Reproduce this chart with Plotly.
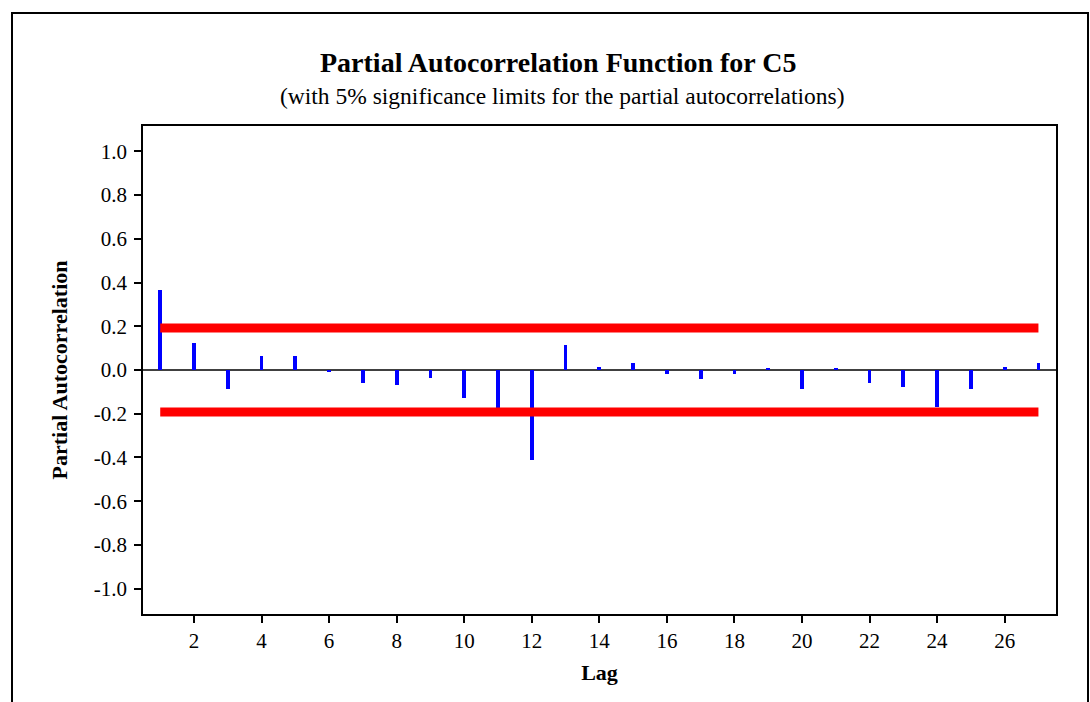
import plotly.graph_objects as go

lags = list(range(1, 28))
pacf = [0.365, 0.124, -0.085, 0.066, 0.066, -0.009, -0.059, -0.068, -0.035,
        -0.127, -0.172, -0.410, 0.116, 0.015, 0.032, -0.018, -0.043, -0.018,
        0.008, -0.085, 0.008, -0.059, -0.076, -0.169, -0.085, 0.015, 0.032]
sig_limit = 0.192
x_ticks = list(range(2, 27, 2))
y_ticks = [round(-1.0 + 0.2 * i, 1) for i in range(11)]
y_ticktext = [f"{v:.1f}" for v in y_ticks]

FONT = "Liberation Serif, Times New Roman, serif"

fig = go.Figure()
fig.add_trace(go.Bar(x=lags, y=pacf, width=0.11, marker=dict(color="#0000ff", line=dict(width=0)),
                     showlegend=False))
fig.add_trace(go.Scatter(x=[lags[0], lags[-1]], y=[sig_limit, sig_limit], mode="lines",
                         line=dict(color="#ff0000", width=9), showlegend=False))
fig.add_trace(go.Scatter(x=[lags[0], lags[-1]], y=[-sig_limit, -sig_limit], mode="lines",
                         line=dict(color="#ff0000", width=9), showlegend=False))

L, R, T, B = 143, 34, 126, 88
W, H = 1090, 702
pw, ph = W - L - R, H - T - B

def px_x(x):
    return (x - L) / pw

def px_y(y):
    return (H - B - y) / ph

fig.update_layout(
    width=W, height=H,
    margin=dict(l=L, r=R, t=T, b=B),
    paper_bgcolor="white", plot_bgcolor="white",
    font=dict(family=FONT, size=20, color="black"),
    bargap=0,
    xaxis=dict(range=[0.49, 27.52], tickvals=x_ticks, ticks="outside", ticklen=7, tickwidth=1.5,
               tickcolor="black", showline=True, linecolor="black", linewidth=1.5, mirror=True,
               showgrid=False, zeroline=False, tickfont=dict(size=21),
               title=dict(text="<b>Lag</b>", font=dict(size=22), standoff=13)),
    yaxis=dict(range=[-1.116, 1.116], tickvals=y_ticks, ticktext=y_ticktext, ticks="outside",
               ticklen=7, tickwidth=1.5, tickcolor="black", showline=True, linecolor="black",
               linewidth=1.5, mirror=True, showgrid=False, zeroline=True, zerolinecolor="#404040",
               zerolinewidth=1.5, tickfont=dict(size=21), ticklabelstandoff=3,
               title=dict(text="<b>Partial Autocorrelation</b>", font=dict(size=22), standoff=20)),
    annotations=[
        dict(text="<b>Partial Autocorrelation Function for C5</b>", xref="paper", yref="paper",
             x=px_x(558), y=px_y(62), xanchor="center", yanchor="middle", showarrow=False,
             font=dict(size=28)),
        dict(text="(with 5% significance limits for the partial autocorrelations)", xref="paper",
             yref="paper", x=px_x(562), y=px_y(96), xanchor="center", yanchor="middle",
             showarrow=False, font=dict(size=23.5)),
    ],
    shapes=[
        dict(type="rect", xref="paper", yref="paper", x0=px_x(12), x1=px_x(1088),
             y0=px_y(720), y1=px_y(13), line=dict(color="black", width=2), layer="below"),
    ],
)

fig.write_html("out.html")
